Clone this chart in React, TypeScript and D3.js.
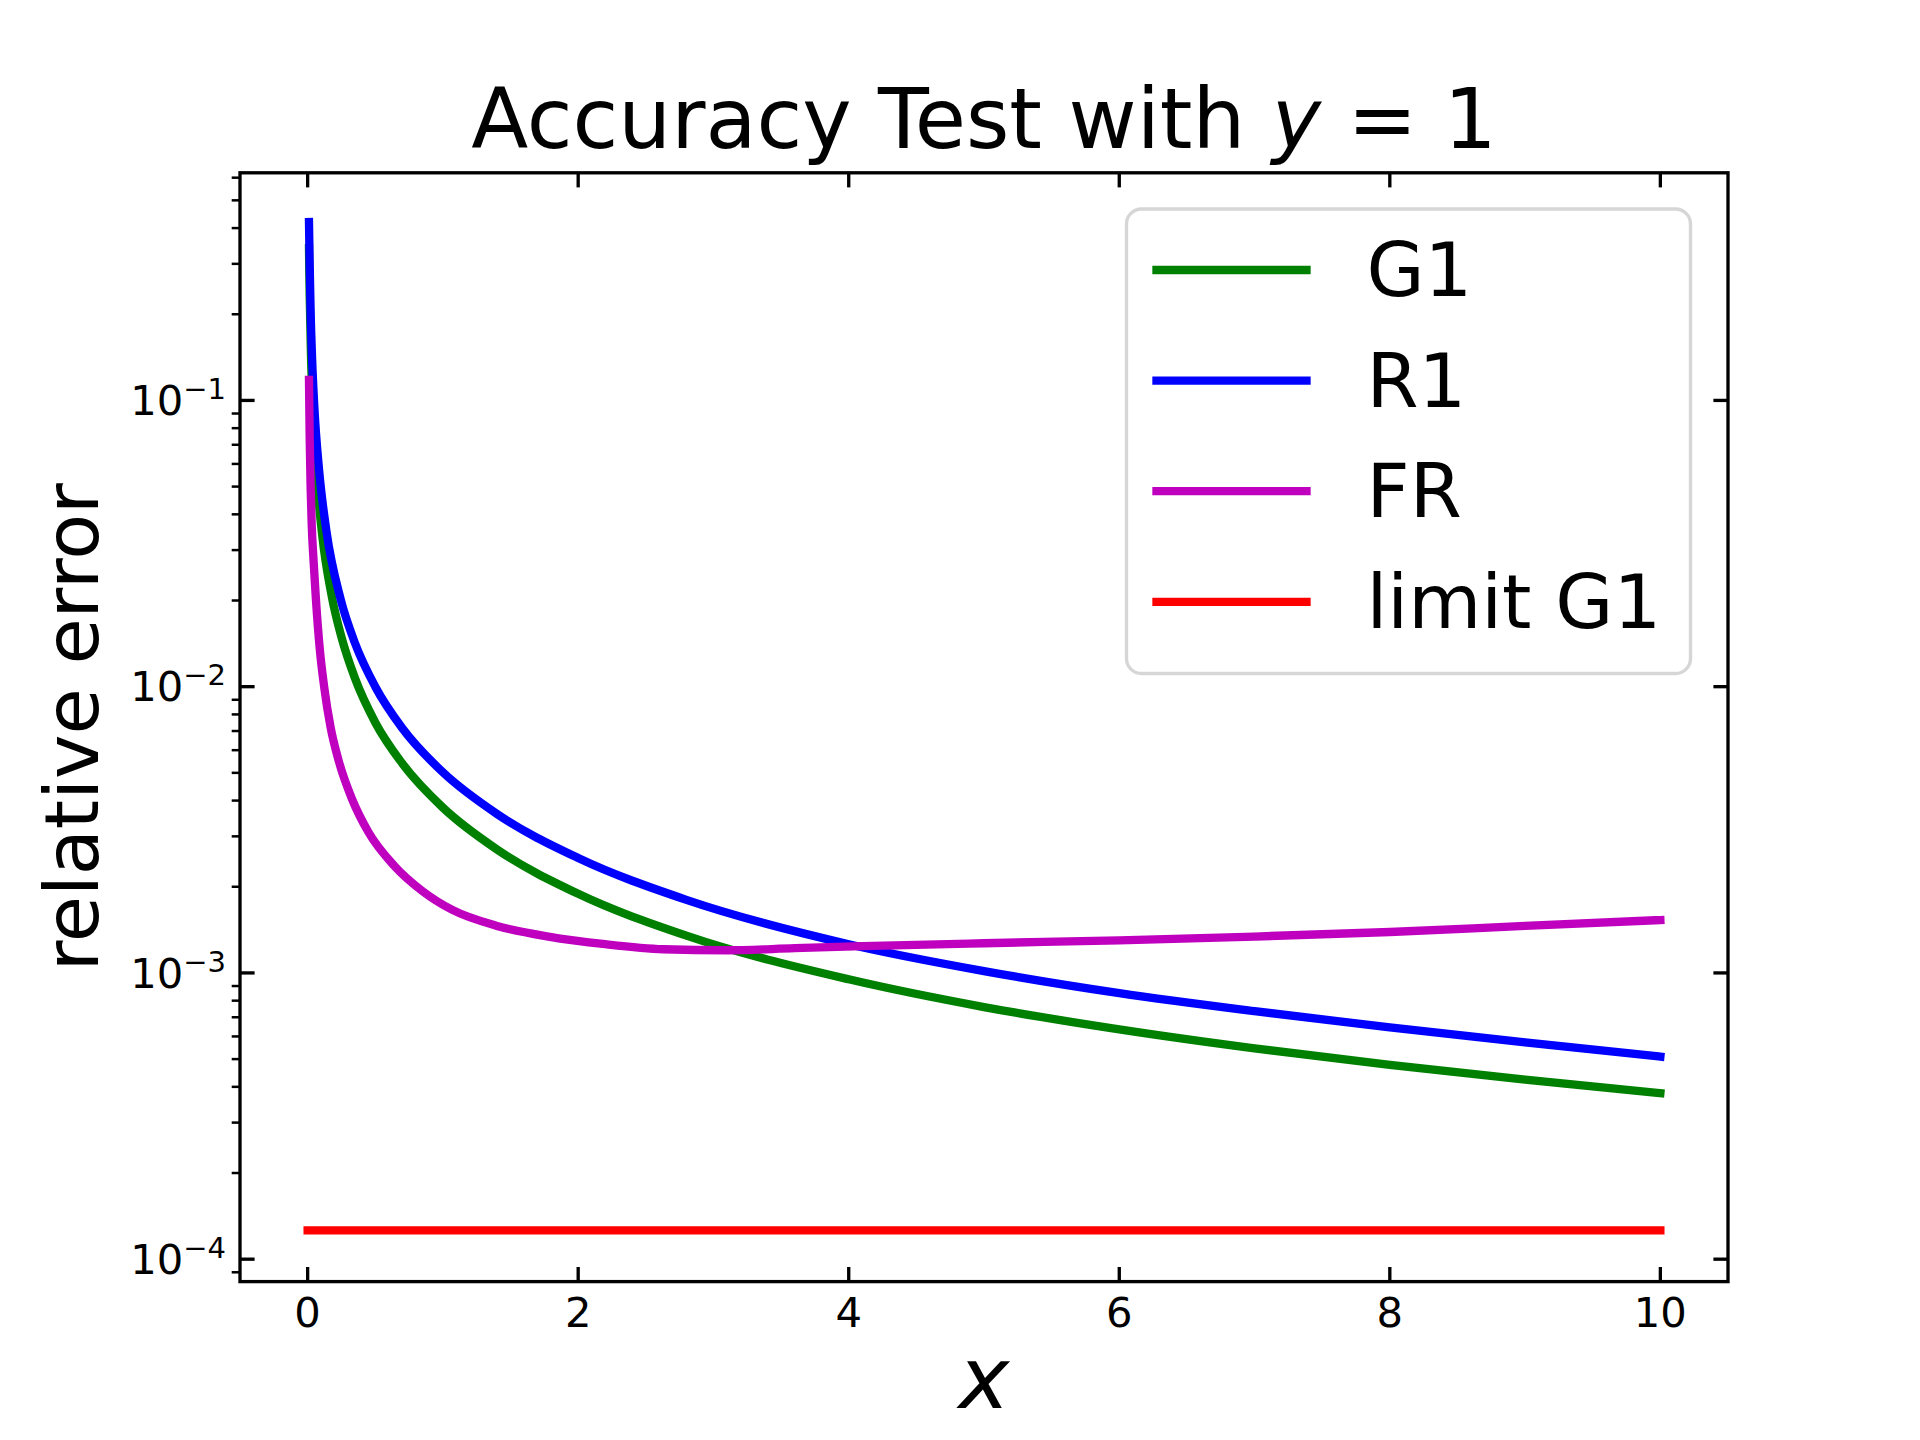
import * as React from "react";
import * as d3 from "d3";

// values (x, relative error)
const g1X = [0.01, 0.015, 0.024, 0.04, 0.06, 0.106, 0.18, 0.25, 0.35, 0.5, 0.7, 1, 1.4, 2, 2.8, 4, 5, 6, 7, 8, 9, 10];
const g1Y = [0.34, 0.235, 0.148, 0.09, 0.06, 0.0344, 0.0205, 0.0149, 0.0107, 0.0075, 0.00539, 0.00378, 0.0027, 0.00189, 0.00135, 0.00095, 0.00076, 0.000635, 0.000545, 0.000477, 0.000424, 0.00038];

const r1X = [0.01, 0.015, 0.022, 0.033, 0.05, 0.084, 0.138, 0.244, 0.35, 0.5, 0.7, 1, 1.4, 2, 2.8, 4, 5, 6, 7, 8, 9, 10];
const r1Y = [0.42, 0.3, 0.205, 0.14, 0.094, 0.0575, 0.0352, 0.0202, 0.0142, 0.01, 0.00716, 0.00502, 0.00359, 0.00252, 0.0018, 0.00126, 0.001015, 0.00085, 0.000735, 0.000645, 0.000572, 0.00051];

const frX = [0.01, 0.015, 0.022, 0.03, 0.045, 0.06, 0.09, 0.122, 0.17, 0.23, 0.33, 0.45, 0.643, 0.85, 1.07, 1.4, 1.78, 2.2, 2.63, 3.1, 3.6, 4.1, 5, 6, 7, 8, 9, 10];
const frY = [0.118, 0.075, 0.05, 0.037, 0.027, 0.0206, 0.0135, 0.01, 0.0072, 0.0055, 0.00403, 0.0031, 0.00236, 0.00193, 0.00166, 0.00146, 0.00134, 0.00126, 0.00121, 0.0012, 0.00122, 0.00124, 0.00127, 0.0013, 0.00134, 0.00139, 0.00146, 0.00153];

const limitX = [0, 10];
const limitY = [1.26e-4, 1.26e-4];

const seriesNames = ["G1", "R1", "FR", "limit G1"];
const seriesColors = ["#008000", "#0000ff", "#bf00bf", "#ff0000"];

const xTicks = [0, 2, 4, 6, 8, 10];
const yDecades = [-4, -3, -2, -1];

const W = 1920,
  H = 1440;
const left = 240,
  right = 1728,
  top = 172.8,
  bottom = 1281.6;
const font = "DejaVu Sans, sans-serif";
const lw = 8.33; // 2pt at 300dpi

export default function App() {
  const ref = React.useRef<SVGSVGElement>(null);

  React.useEffect(() => {
    if (!ref.current) return;
    const svg = d3.select(ref.current);
    svg.selectAll("*").remove();

    const x = d3.scaleLinear().domain([-0.5, 10.5]).range([left, right]);
    const y = d3.scaleLog().domain([8.35e-5, 0.624]).range([bottom, top]);

    svg.append("rect").attr("width", W).attr("height", H).attr("fill", "white");

    svg
      .append("clipPath")
      .attr("id", "plot-clip")
      .append("rect")
      .attr("x", left)
      .attr("y", top)
      .attr("width", right - left)
      .attr("height", bottom - top);

    const series = [
      { xs: g1X, ys: g1Y },
      { xs: r1X, ys: r1Y },
      { xs: frX, ys: frY },
      { xs: limitX, ys: limitY },
    ];

    const line = d3
      .line<[number, number]>()
      .curve(d3.curveMonotoneX)
      .x((d) => x(d[0]))
      .y((d) => y(d[1]));

    const plot = svg.append("g").attr("clip-path", "url(#plot-clip)");
    series.forEach((s, i) => {
      const pts = s.xs.map((v, j) => [v, s.ys[j]] as [number, number]);
      plot
        .append("path")
        .attr("d", line(pts))
        .attr("fill", "none")
        .attr("stroke", seriesColors[i])
        .attr("stroke-width", lw)
        .attr("stroke-linecap", "square")
        .attr("stroke-linejoin", "round");
    });

    // ticks
    const ticks = svg.append("g").attr("stroke", "black");
    xTicks.forEach((t) => {
      ticks.append("line").attr("x1", x(t)).attr("x2", x(t)).attr("y1", bottom).attr("y2", bottom - 14.6).attr("stroke-width", 3.33);
      ticks.append("line").attr("x1", x(t)).attr("x2", x(t)).attr("y1", top).attr("y2", top + 14.6).attr("stroke-width", 3.33);
    });
    yDecades.forEach((d) => {
      const yy = y(Math.pow(10, d));
      ticks.append("line").attr("x1", left).attr("x2", left + 14.6).attr("y1", yy).attr("y2", yy).attr("stroke-width", 3.33);
      ticks.append("line").attr("x1", right).attr("x2", right - 14.6).attr("y1", yy).attr("y2", yy).attr("stroke-width", 3.33);
    });
    const [y0, y1] = y.domain();
    for (let d = -5; d <= 0; d++) {
      for (let k = 2; k <= 9; k++) {
        const v = k * Math.pow(10, d);
        if (v < y0 || v > y1) continue;
        ticks.append("line").attr("x1", left).attr("x2", left - 8.3).attr("y1", y(v)).attr("y2", y(v)).attr("stroke-width", 2.5);
      }
    }

    // spines
    svg
      .append("rect")
      .attr("x", left)
      .attr("y", top)
      .attr("width", right - left)
      .attr("height", bottom - top)
      .attr("fill", "none")
      .attr("stroke", "black")
      .attr("stroke-width", 3.33)
      .attr("stroke-linejoin", "miter");

    // tick labels
    svg
      .append("g")
      .selectAll("text")
      .data(xTicks)
      .enter()
      .append("text")
      .attr("x", (d) => x(d))
      .attr("y", 1327)
      .attr("text-anchor", "middle")
      .attr("font-family", font)
      .attr("font-size", 41.7)
      .text((d) => String(d));

    const yl = svg
      .append("g")
      .selectAll("text")
      .data(yDecades)
      .enter()
      .append("text")
      .attr("x", 226)
      .attr("y", (d) => y(Math.pow(10, d)) + 14.6)
      .attr("text-anchor", "end")
      .attr("font-family", font)
      .attr("font-size", 41.7);
    yl.append("tspan").text("10");
    yl.append("tspan")
      .attr("dy", -16)
      .attr("font-size", 29)
      .text((d) => "\u2212" + Math.abs(d));

    // title
    const title = svg
      .append("text")
      .attr("x", (left + right) / 2)
      .attr("y", 148)
      .attr("text-anchor", "middle")
      .attr("font-family", font)
      .attr("font-size", 83.3);
    title.append("tspan").text("Accuracy Test with ");
    title.append("tspan").attr("font-style", "italic").text("y");
    title.append("tspan").text(" = 1");

    // axis labels
    svg
      .append("text")
      .attr("x", (left + right) / 2)
      .attr("y", 1408)
      .attr("text-anchor", "middle")
      .attr("font-family", font)
      .attr("font-style", "italic")
      .attr("font-size", 86)
      .text("x");

    svg
      .append("text")
      .attr("transform", `translate(98, ${(top + bottom) / 2}) rotate(-90)`)
      .attr("text-anchor", "middle")
      .attr("font-family", font)
      .attr("font-size", 75)
      .text("relative error");

    // legend
    const legend = svg.append("g");
    legend
      .append("rect")
      .attr("x", 1126.5)
      .attr("y", 209)
      .attr("width", 564)
      .attr("height", 464.5)
      .attr("rx", 15)
      .attr("fill", "white")
      .attr("fill-opacity", 0.8)
      .attr("stroke", "#cccccc")
      .attr("stroke-opacity", 0.8)
      .attr("stroke-width", 3.33);

    seriesNames.forEach((name, i) => {
      const base = 296 + i * 110.6;
      legend
        .append("line")
        .attr("x1", 1156.5)
        .attr("x2", 1306.5)
        .attr("y1", base - 26)
        .attr("y2", base - 26)
        .attr("stroke", seriesColors[i])
        .attr("stroke-width", lw)
        .attr("stroke-linecap", "square");
      legend
        .append("text")
        .attr("x", 1366.5)
        .attr("y", base)
        .attr("font-family", font)
        .attr("font-size", 75)
        .text(name);
    });
  }, []);

  return (
    <svg
      ref={ref}
      width={W}
      height={H}
      style={{ position: "absolute", left: 0, top: 0 }}
    />
  );
}
